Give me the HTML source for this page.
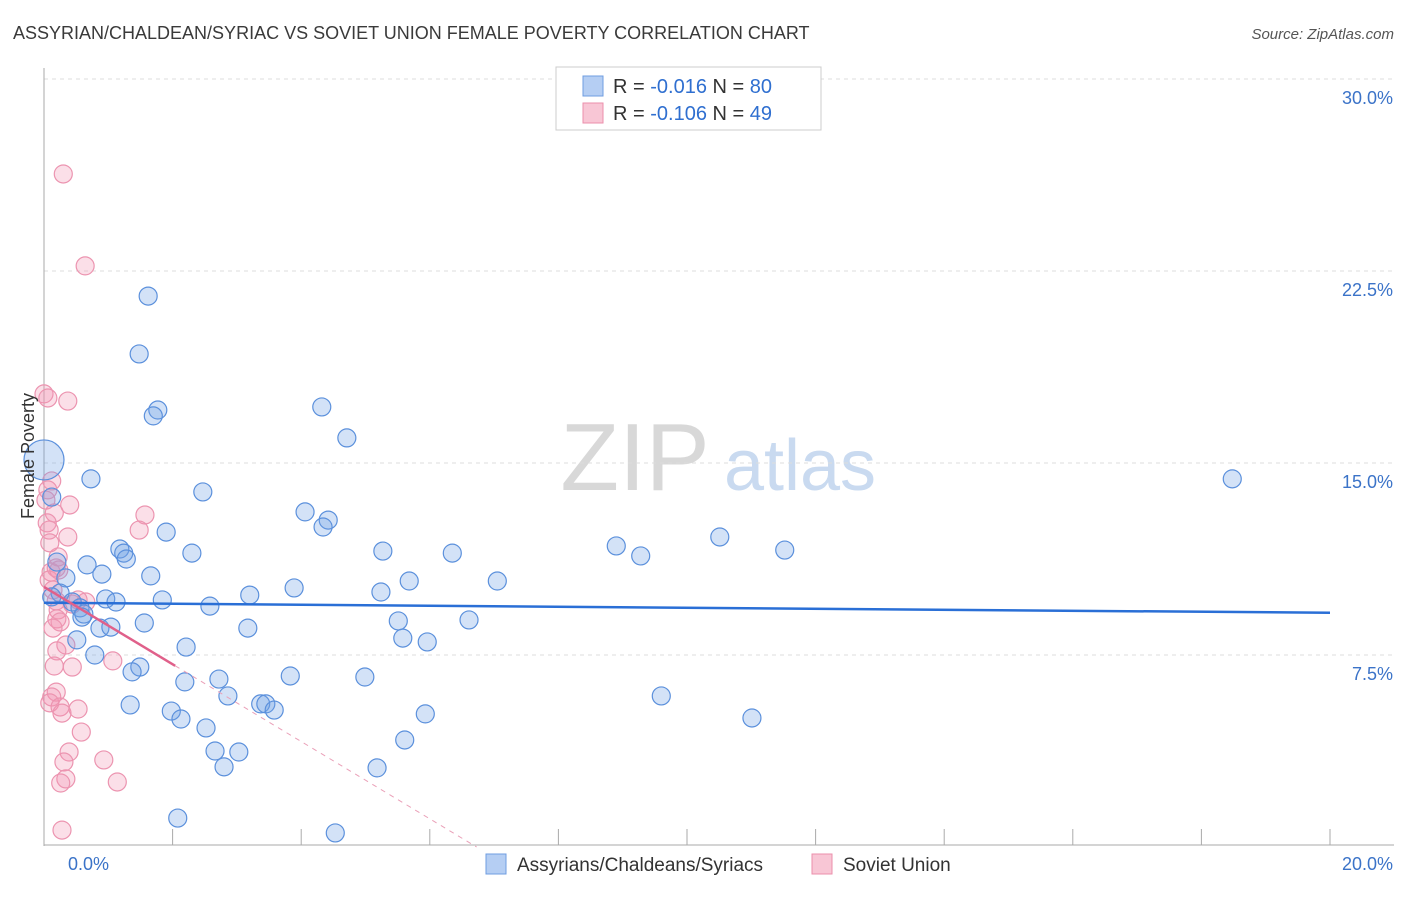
<!DOCTYPE html>
<html><head><meta charset="utf-8"><style>
body{margin:0;background:#fff;font-family:"Liberation Sans",sans-serif;}
svg text{font-family:"Liberation Sans",sans-serif;}
</style></head><body>
<svg id="chart" width="1406" height="892" viewBox="0 0 1406 892" xmlns="http://www.w3.org/2000/svg">
<text x="13" y="39" font-size="18" fill="#3a3a3a">ASSYRIAN/CHALDEAN/SYRIAC VS SOVIET UNION FEMALE POVERTY CORRELATION CHART</text>
<text x="1394" y="39" font-size="15" fill="#555" font-style="italic" text-anchor="end">Source: ZipAtlas.com</text>
<g>
<text x="635" y="490" font-size="96" fill="#d8d8d8" font-family="Liberation Serif,serif" text-anchor="middle">ZIP</text>
<text x="800" y="490" font-size="72" fill="#c9daf0" text-anchor="middle">atlas</text>
</g>
<g id="grid"></g>
<g id="axes"></g>
<g id="pts"></g>
<g id="trends"></g>
<g>
<rect x="556" y="67" width="265" height="63" fill="#fff" stroke="#ccc"/>
<rect x="583" y="76" width="20" height="20" fill="#b5cef3" stroke="#6f9de0"/>
<text x="613" y="93" font-size="20" fill="#333">R = <tspan fill="#2f6fd0">-0.016</tspan>   N = <tspan fill="#2f6fd0">80</tspan></text>
<rect x="583" y="103" width="20" height="20" fill="#f8c6d5" stroke="#eb8fab"/>
<text x="613" y="120" font-size="20" fill="#333">R = <tspan fill="#2f6fd0">-0.106</tspan>   N = <tspan fill="#2f6fd0">49</tspan></text>
</g>
<g>
<rect x="486" y="854" width="20" height="20" fill="#b5cef3" stroke="#6f9de0"/>
<text x="517" y="871" font-size="19" fill="#333">Assyrians/Chaldeans/Syriacs</text>
<rect x="812" y="854" width="20" height="20" fill="#f8c6d5" stroke="#eb8fab"/>
<text x="843" y="871" font-size="19" fill="#333">Soviet Union</text>
</g>
<text transform="translate(34,456) rotate(-90)" font-size="18" fill="#333" text-anchor="middle">Female Poverty</text>
</svg>
<script>
const yTicks=[7.5,15,22.5,30];
const yTickLabels=["7.5%","15.0%","22.5%","30.0%"];
const xTickLabels=["0.0%","20.0%"];
const blueX=[1.62,1.48,1.77,1.70,4.32,4.71,0.73,2.47,18.48,4.06,4.42,4.34,1.90,1.18,1.24,1.28,2.30,0.67,0.90,0.34,1.66,5.27,6.35,8.90,9.28,10.51,11.52,3.89,5.68,7.05,5.24,3.20,0.25,0.12,0.44,0.96,1.12,1.84,2.58,0.56,0.62,0.59,5.51,6.61,1.56,0.87,1.04,3.17,5.58,5.96,0.51,2.21,0.79,1.49,1.37,3.83,4.99,2.72,2.19,2.86,9.60,1.34,3.37,3.45,3.58,1.98,2.13,2.52,5.93,11.01,5.61,2.66,3.03,2.80,5.18,2.08,4.53,0.12,0.20,0.0];
const blueY=[21.52,19.26,17.07,16.84,17.19,15.98,14.38,13.87,14.38,13.09,12.77,12.50,12.30,11.64,11.48,11.25,11.48,11.02,10.66,10.51,10.59,11.56,11.48,11.76,11.37,12.11,11.60,10.12,10.39,10.39,9.96,9.84,9.92,9.77,9.57,9.69,9.57,9.65,9.41,9.34,9.10,8.98,8.83,8.87,8.75,8.55,8.59,8.55,8.16,8.01,8.09,7.81,7.50,7.03,6.84,6.68,6.64,6.56,6.45,5.90,5.90,5.55,5.59,5.59,5.35,5.31,5.00,4.65,5.20,5.04,4.18,3.75,3.71,3.13,3.09,1.13,0.55,13.67,11.13,15.12];
const blueSize=blueX.map((v,i)=>i===blueX.length-1?20:9);
const pinkX=[0.30,0.64,0.0,0.06,0.37,1.57,1.48,0.12,0.06,0.03,0.40,0.16,0.05,0.37,0.22,0.19,0.11,0.08,0.14,0.19,0.44,0.22,0.65,0.20,0.25,0.14,0.34,1.07,0.20,0.16,0.44,0.19,0.12,0.09,0.25,0.28,0.53,0.58,0.39,0.31,0.93,0.34,0.26,1.14,0.28,0.08,0.09,0.23,0.53];
const pinkY=[26.29,22.70,17.70,17.54,17.42,12.97,12.38,14.30,13.95,13.55,13.36,13.05,12.66,12.11,11.33,10.90,10.74,10.43,10.04,9.61,9.49,9.26,9.57,8.91,8.79,8.55,7.89,7.27,7.66,7.07,7.03,6.05,5.86,5.63,5.47,5.23,5.39,4.49,3.71,3.32,3.40,2.66,2.50,2.54,0.66,12.38,11.88,10.82,9.65];
const blueTrend=[9.54,-0.0195];
const pinkTrend=[10.16,-1.51];
const NS="http://www.w3.org/2000/svg";
const sx=v=>44+v*64.3, sy=v=>847-v*25.6;
function mk(t,a,p){const e=document.createElementNS(NS,t);for(const k in a)e.setAttribute(k,a[k]);p.appendChild(e);return e;}
const grid=document.getElementById('grid'),axes=document.getElementById('axes'),pts=document.getElementById('pts'),tr=document.getElementById('trends');
yTicks.forEach((t,i)=>{
 const l=mk('line',{x1:44,x2:1394,y1:sy(t),y2:sy(t),stroke:'#ddd','stroke-dasharray':'4,4'},grid);
 
 
 const tx=mk('text',{x:1393,y:sy(t)+25,'font-size':18,fill:'#3b73c8','text-anchor':'end'},axes);
 tx.textContent=yTickLabels[i];
 
 
});
const ya=mk('line',{x1:44,x2:44,y1:68,y2:846,stroke:'#aaa'},axes);


const xa=mk('line',{x1:44,x2:1394,y1:845,y2:845,stroke:'#aaa'},axes);


for(let i=0;i<=10;i++){const t=mk('line',{x1:sx(i*2),x2:sx(i*2),y1:829,y2:845,stroke:'#aaa'},axes);
 
 }
[[0,68,'start'],[20,1393,'end']].forEach((d,i)=>{const t=mk('text',{x:d[1],y:870,'font-size':18,fill:'#3b73c8','text-anchor':d[2]},axes);t.textContent=xTickLabels[i];
 
 });
pinkX.forEach((x,i)=>{const c=mk('circle',{cx:sx(x),cy:sy(pinkY[i]),r:9,fill:'rgba(242,150,180,0.3)',stroke:'#ec94b0','stroke-width':1.2},pts);
 
 });
blueX.forEach((x,i)=>{const c=mk('circle',{cx:sx(x),cy:sy(blueY[i]),r:blueSize[i],fill:'rgba(110,160,230,0.3)',stroke:'#5b90dc','stroke-width':1.2},pts);
 
 });
const bl=mk('line',{x1:sx(0),y1:sy(blueTrend[0]),x2:sx(20),y2:sy(blueTrend[0]+blueTrend[1]*20),stroke:'#2a6fd6','stroke-width':2.5},tr);


const pEnd=2.04,pZero=-pinkTrend[0]/pinkTrend[1];
const pl=mk('line',{x1:sx(0),y1:sy(pinkTrend[0]),x2:sx(pEnd),y2:sy(pinkTrend[0]+pinkTrend[1]*pEnd),stroke:'#e0608a','stroke-width':2.5},tr);


const pd=mk('line',{x1:sx(pEnd),y1:sy(pinkTrend[0]+pinkTrend[1]*pEnd),x2:sx(pZero),y2:sy(0),stroke:'#eaa0b8','stroke-width':1,'stroke-dasharray':'5,5'},tr);


</script>
</body></html>
